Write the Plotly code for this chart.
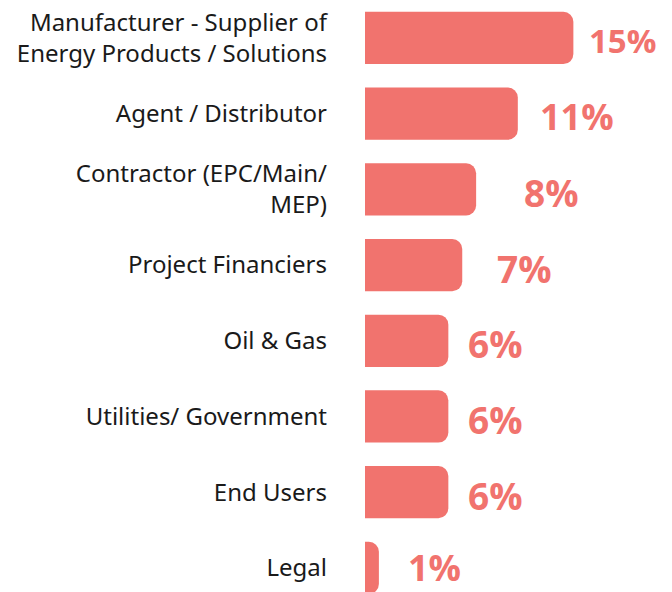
import plotly.graph_objects as go

categories = [
    "Manufacturer - Supplier of<br>Energy Products / Solutions",
    "Agent / Distributor",
    "Contractor (EPC/Main/<br>MEP)",
    "Project Financiers",
    "Oil & Gas",
    "Utilities/ Government",
    "End Users",
    "Legal",
]
values = [15, 11, 8, 7, 6, 6, 6, 1]
value_labels = ["15%", "11%", "8%", "7%", "6%", "6%", "6%", "1%"]

# label styling (offsets in px from bar end, font sizes, vertical nudges)
label_xshift = [14, 20, 46, 33, 18, 18, 18, 27]
label_size = [33, 36, 37, 37, 37, 37, 37, 36]
label_yshift = [-3, -3, -3, -3, -3, -3, -3, 0]

COLOR = "#F1736E"

fig = go.Figure()
fig.add_trace(go.Bar(
    x=values,
    y=categories,
    orientation="h",
    marker=dict(color=COLOR, line=dict(width=0)),
    cliponaxis=False,
    hoverinfo="skip",
))

for cat, v, lab, dx, fs, dy in zip(categories, values, value_labels,
                                   label_xshift, label_size, label_yshift):
    fig.add_annotation(
        x=v, y=cat, text=lab, showarrow=False,
        xanchor="left", yanchor="middle", xshift=dx, yshift=dy,
        font=dict(family="Open Sans", size=fs, color=COLOR, weight="bold"),
    )

# page body has an 8px margin, so the figure is sized/placed to compensate
fig.update_layout(
    width=664,
    height=584,
    margin=dict(l=357, r=0, t=0, b=0, pad=0, autoexpand=False),
    paper_bgcolor="white",
    plot_bgcolor="white",
    bargap=0.31,
    barcornerradius=10,
    showlegend=False,
)
fig.update_xaxes(range=[0, 22.1], visible=False, showgrid=False, zeroline=False, automargin=False)
fig.update_yaxes(
    range=[7.319, -0.396],
    automargin=False,
    showgrid=False,
    zeroline=False,
    showline=False,
    ticks="",
    ticklabelstandoff=37,
    tickfont=dict(family="Noto Sans", size=24, color="#1a1a1a"),
)

fig.write_html("out.html")
